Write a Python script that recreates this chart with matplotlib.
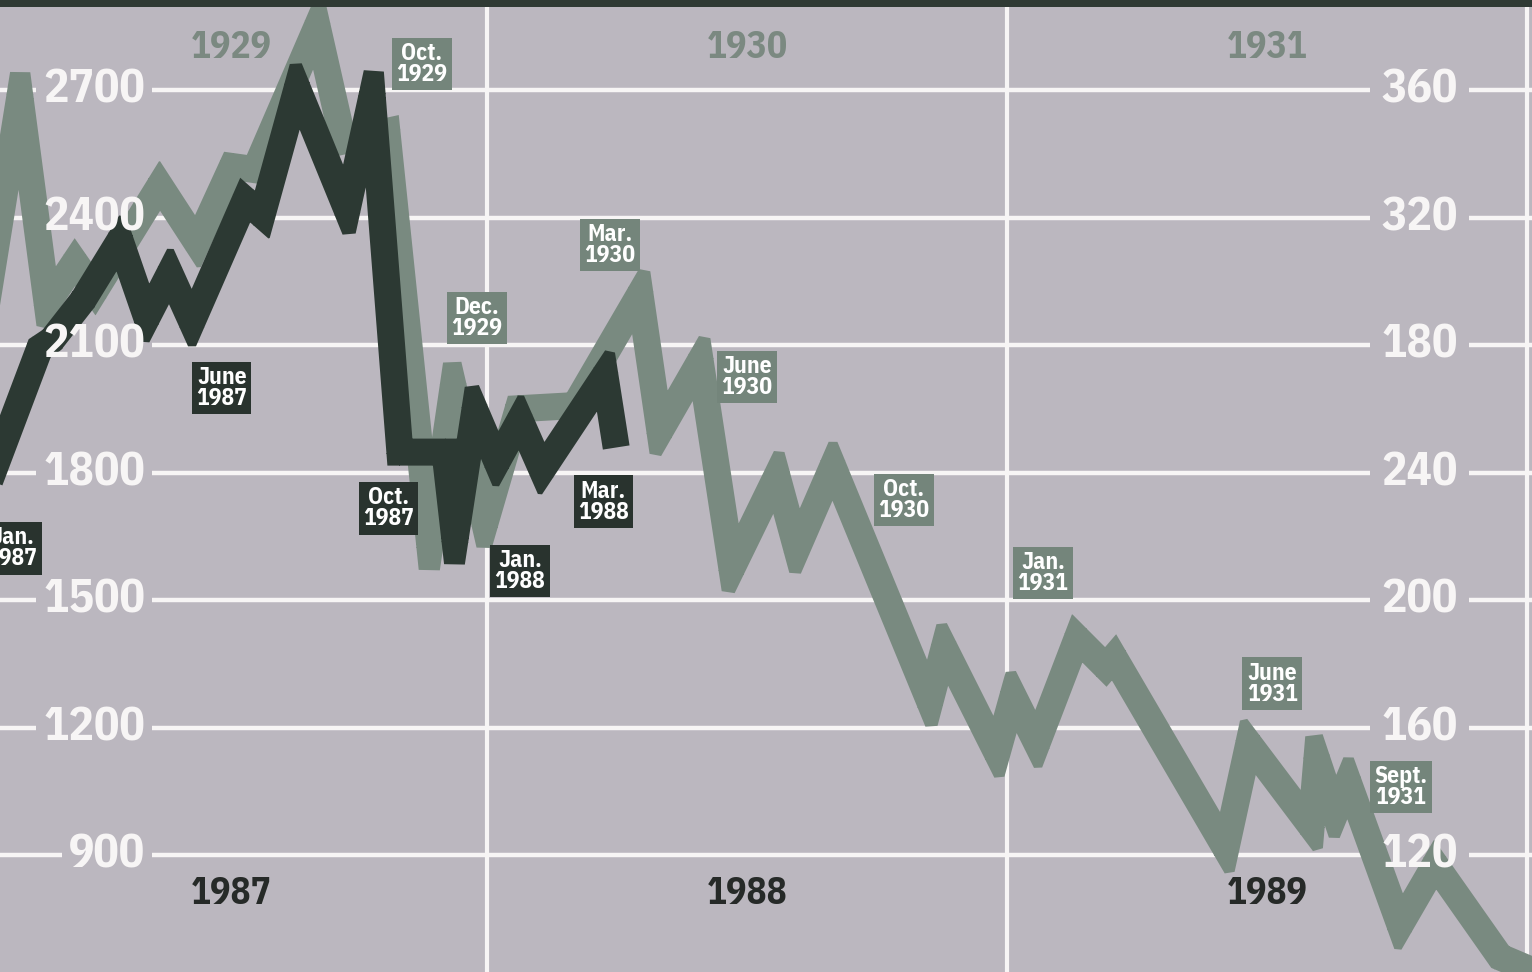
import matplotlib
matplotlib.use("Agg")
import numpy as np
import matplotlib.pyplot as plt
from matplotlib.patches import Rectangle, PathPatch
from matplotlib.path import Path
from matplotlib.transforms import blended_transform_factory

plt.rcParams['font.family'] = ['IBM Plex Sans Condensed', 'DejaVu Sans']

# =========================
# data  (months counted from Jan 1 of 1987 / 1929)
# =========================
dow87_month = [0.53, 1.68, 1.96, 2.68, 3.53, 4.15, 4.68, 5.19, 6.42, 6.81, 7.62,
               8.77, 9.35, 9.99, 11.03, 11.26, 11.72, 12.23, 12.76, 13.27, 14.72, 14.98]
dow87_value = [1782, 2093, 2112, 2206, 2347, 2164, 2269, 2154, 2441, 2406, 2705,
               2418, 2688, 1848, 1848, 1641, 1947, 1825, 1924, 1806, 2029, 1860]

dow29_month = [0.30, 1.22, 1.85, 2.49, 2.95, 4.45, 5.31, 6.12, 6.65, 8.08, 8.68,
               9.69, 10.68, 11.22, 11.95, 12.72, 14.03, 15.53, 15.99, 16.92, 17.65,
               18.69, 19.15, 19.98, 22.22, 22.55, 23.77, 24.14, 24.69, 25.62, 26.28,
               26.47, 29.05, 29.58, 31.02, 31.15, 31.57, 31.87, 33.07, 33.88, 35.38, 36.42]
dow29_value = [280, 358, 293, 306, 297, 330, 312, 336, 335, 380, 344,
               347, 217, 267, 224, 260, 261, 296, 253, 275, 210,
               239, 216, 242, 168, 185, 152, 170, 155, 188, 179,
               182, 122, 155, 129, 150, 133, 143, 98, 117, 88, 82]

left_ticks = [2700, 2400, 2100, 1800, 1500, 1200, 900]
right_ticks = [360, 320, 280, 240, 200, 160, 120]
right_labels = ["360", "320", "180", "240", "200", "160", "120"]

top_years = ["1929", "1930", "1931"]
bottom_years = ["1987", "1988", "1989"]
year_mid = [6.1, 18.0, 30.0]
year_starts = [12, 24, 36]

dark_notes = ["Jan.\n1987", "June\n1987", "Oct.\n1987", "Jan.\n1988", "Mar.\n1988"]
dark_note_month = [1.04, 5.88, 9.72, 12.76, 14.68]
dark_note_value = [1622, 1999, 1716, 1568, 1731]

gray_notes = ["Oct.\n1929", "Dec.\n1929", "Mar.\n1930", "June\n1930",
              "Oct.\n1930", "Jan.\n1931", "June\n1931", "Sept.\n1931"]
gray_note_month = [10.50, 11.77, 14.84, 18.00, 21.62, 24.83, 30.12, 33.09]
gray_note_value = [368.2, 288.5, 311.4, 270.0, 231.4, 208.5, 173.7, 141.3]

# =========================
# colours
# =========================
BG = "#bbb7bf"
GRAY = "#798a80"
DARK = "#2c3933"
WHITE = "#f7f5f5"


def ribbon(a, xs, ys, width, color, zorder, limit=1.8):
    """thick polyline with pointed (mitred) joins, built in pixel space"""
    p = a.transData.transform(np.column_stack([xs, ys]))
    h = width / 2.0
    d = np.diff(p, axis=0)
    d = d / np.hypot(d[:, 0], d[:, 1])[:, None]
    n = np.column_stack([-d[:, 1], d[:, 0]])
    polys = []
    for i in range(len(d)):
        e = 0.5 * d[i]
        polys.append([p[i] + n[i] * h - e, p[i + 1] + n[i] * h + e,
                      p[i + 1] - n[i] * h + e, p[i] - n[i] * h - e])
    for i in range(1, len(p) - 1):
        d0, d1, n0, n1 = d[i - 1], d[i], n[i - 1], n[i]
        cross = d0[0] * d1[1] - d0[1] * d1[0]
        if abs(cross) < 1e-9:
            continue
        s = -1.0 if cross > 0 else 1.0
        m = n0 + n1
        m = m / np.hypot(*m)
        cphi = max(np.dot(m, n1), 1e-6)
        sphi = np.sqrt(max(1 - cphi ** 2, 1e-12))
        a0 = p[i] + s * n0 * h
        a1 = p[i] + s * n1 * h
        if 1.0 / cphi <= limit:
            polys.append([p[i], a0, p[i] + s * m * h / cphi, a1])
        else:
            k = h * (limit - cphi) / sphi
            polys.append([p[i], a0, a0 + d0 * k, a1 - d1 * k, a1])
    inv = a.transData.inverted()
    verts, codes = [], []
    for poly in polys:
        q = np.array(poly)
        area = np.sum(q[:, 0] * np.roll(q[:, 1], -1) - np.roll(q[:, 0], -1) * q[:, 1])
        if area < 0:
            q = q[::-1]
        q = inv.transform(q)
        verts += list(q) + [q[0]]
        codes += [Path.MOVETO] + [Path.LINETO] * (len(q) - 1) + [Path.CLOSEPOLY]
    a.add_patch(PathPatch(Path(verts, codes), facecolor=color, edgecolor="none",
                          lw=0, zorder=zorder))


fig = plt.figure(figsize=(15.32, 9.72), dpi=100, facecolor=BG)
ax2 = fig.add_axes([0, 0, 1, 1])      # 1929-31 scale (behind)
ax = ax2.twinx()                      # 1987-89 scale (front)
ax.set_position([0, 0, 1, 1])
ax.set_zorder(2)
ax2.set_zorder(1)
for a in (ax, ax2):
    a.set_axis_off()

ax.set_xlim(0.762, 36.115)
ax2.set_xlim(0.762, 36.115)
ax.set_ylim(624.7, 2911.8)
ax2.set_ylim(120 + (624.7 - 900) / 7.5, 120 + (2911.8 - 900) / 7.5)

# ribbons
ribbon(ax2, dow29_month, dow29_value, 27, GRAY, 3)
ribbon(ax, dow87_month, dow87_value, 27, DARK, 3)

# axis labels
bold = dict(fontweight="bold", color=WHITE, fontsize=34, zorder=6)
left_txt = [ax.text(4.11, v, str(v), ha="right", va="center", **bold) for v in left_ticks]
right_txt = [ax2.text(33.53, v, lab, ha="center", va="center", **bold)
             for v, lab in zip(right_ticks, right_labels)]

# year labels
tr = blended_transform_factory(ax.transData, ax.transAxes)
for x, t in zip(year_mid, top_years):
    ax.text(x, 1 - 47 / 972, t, transform=tr, ha="center", va="center",
            fontsize=27, fontweight="bold", color="#7b8981", zorder=6)
for x, t in zip(year_mid, bottom_years):
    ax.text(x, 1 - 893 / 972, t, transform=tr, ha="center", va="center",
            fontsize=27, fontweight="bold", color="#262a28", zorder=6)

# boxed notes
note = dict(ha="center", va="center", ma="center", fontsize=17, fontweight="bold",
            color="white", linespacing=0.9, zorder=7)
for t, x, y in zip(dark_notes, dark_note_month, dark_note_value):
    ax.text(x, y, t, bbox=dict(boxstyle="square,pad=0.18", fc="#29332e", ec="none"), **note)
for t, x, y in zip(gray_notes, gray_note_month, gray_note_value):
    ax2.text(x, y, t, bbox=dict(boxstyle="square,pad=0.18", fc="#74857b", ec="none"), **note)

# gridlines with gaps round the labels
fig.canvas.draw()
rend = fig.canvas.get_renderer()
inv = ax2.transData.inverted()
x0, x1 = ax2.get_xlim()
for v, lt, rt in zip(right_ticks, left_txt, right_txt):
    lb = lt.get_window_extent(rend)
    rb = rt.get_window_extent(rend)
    cuts = [inv.transform((lb.x0 - 7, 0))[0], inv.transform((lb.x1 + 7, 0))[0],
            inv.transform((rb.x0 - 12, 0))[0], inv.transform((rb.x1 + 11, 0))[0]]
    for a, b in [(x0, cuts[0]), (cuts[1], cuts[2]), (cuts[3], x1)]:
        ax2.plot([a, b], [v, v], color=WHITE, lw=3.2, solid_capstyle="butt", zorder=1)

for xs in year_starts:
    ax2.axvline(xs, color=WHITE, lw=3.0, zorder=1)

# dark strip at the top
fig.add_artist(Rectangle((0, 1 - 7 / 972), 1, 7 / 972, transform=fig.transFigure,
                         facecolor="#2f3a34", edgecolor="none", zorder=10))

fig.savefig("out.png", dpi=100, facecolor=BG)
